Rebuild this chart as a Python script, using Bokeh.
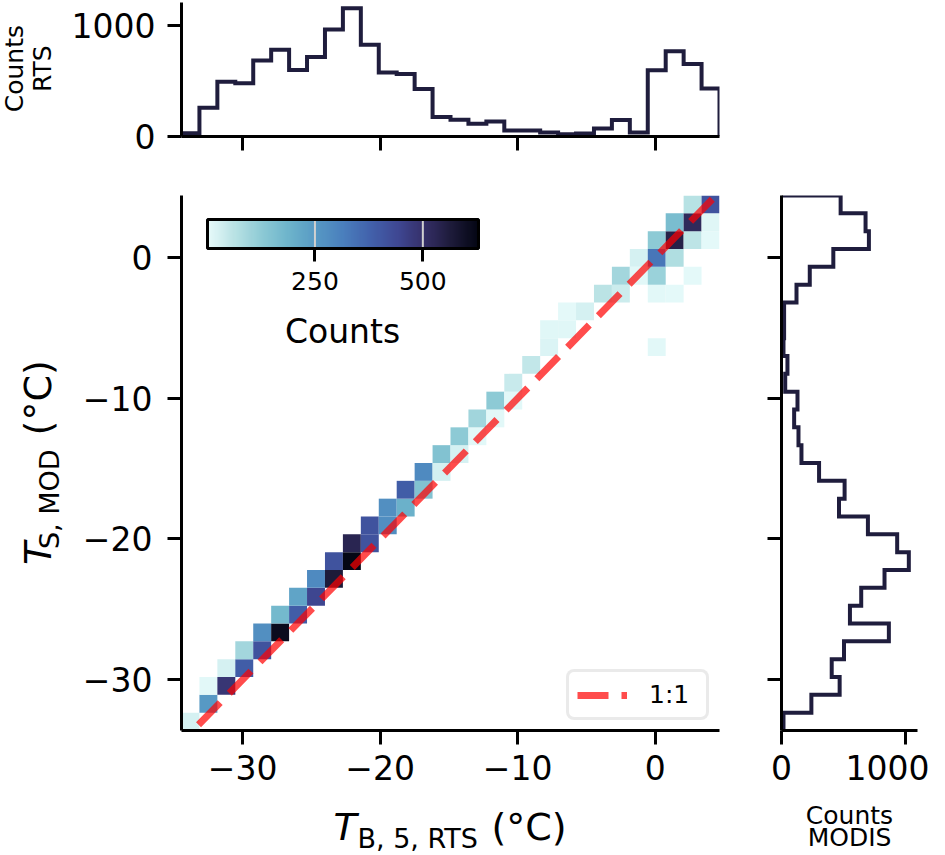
import numpy as np
from bokeh.plotting import figure
from bokeh.models import (Range1d, FixedTicker, LinearColorMapper, ColorBar, Label,
                          ColumnDataSource, BoxAnnotation, Spacer)
from bokeh.layouts import column, row
from bokeh.core.properties import value
from bokeh.embed import file_html
from bokeh.resources import INLINE

# ---------------- data ----------------
X_EDGE_MIN, X_EDGE_MAX = -34.45, 4.68   # T_B,5,RTS bin range (deg C)
Y_EDGE_MIN, Y_EDGE_MAX = -33.62, 4.42   # T_S,MOD bin range (deg C)
N_BINS = 30

# top marginal histogram (RTS), left -> right
rts_counts = [30, 260, 494, 479, 685, 782, 600, 715, 964, 1155,
              827, 576, 564, 427, 176, 152, 115, 136, 55, 55,
              36, 21, 27, 73, 148, 36, 597, 767, 652, 433]

# right marginal histogram (MODIS), bottom -> top
modis_counts = [16, 241, 469, 405, 504, 866, 552, 643, 831, 1027,
                933, 697, 464, 509, 303, 161, 137, 102, 129, 30,
                48, 16, 21, 21, 121, 228, 418, 705, 678, 477]

# 2-D histogram cells: x-bin index, y-bin index (from bottom), count
cell_x_bin = [0, 1, 1, 2, 2, 3, 3, 4, 4, 5, 5, 6, 6, 7, 7, 8, 8, 9, 9, 10,
              10, 11, 11, 12, 12, 13, 13, 14, 14, 15, 15, 16, 16, 17, 17, 18, 18, 19,
              20, 26, 20, 21, 21, 22, 23, 24, 26, 27, 24, 25, 26, 28,
              25, 26, 27, 26, 27, 28, 29, 27, 28, 29, 28, 29]
cell_y_bin = [0, 1, 2, 2, 3, 3, 4, 4, 5, 5, 6, 6, 7, 7, 8, 8, 9, 9, 10, 10,
              11, 11, 12, 12, 13, 13, 14, 14, 15, 15, 16, 16, 17, 17, 18, 18, 19, 20,
              21, 21, 22, 22, 23, 23, 24, 24, 24, 24, 25, 25, 25, 25,
              26, 26, 26, 27, 27, 27, 27, 28, 28, 28, 29, 29]
cell_count = [26, 252, 10, 485, 26, 390, 95, 415, 277, 610, 177, 390, 227, 447, 290, 566, 415, 625, 535, 415,
              415, 280, 277, 196, 390, 150, 290, 28, 150, 26, 128, 10, 98, 9, 128, 9, 45, 52,
              20, 9, 12, 12, 8, 26, 62, 38, 10, 8, 95, 10, 107, 7,
              26, 334, 76, 128, 547, 58, 8, 165, 520, 14, 65, 415]

COUNT_LOW, COUNT_HIGH = 1, 629

temp_ticks = [-30, -20, -10, 0]
temp_tick_labels = ["\u221230", "\u221220", "\u221210", "0"]
count_ticks = [0, 1000]
count_tick_labels = ["0", "1000"]
cbar_ticks = [250, 500]
TOP_COUNT_MAX = 1207
RIGHT_COUNT_MAX = 1097

# ---------------- styling ----------------
FONT = "DejaVu Sans"
TICK_PX = "33px"
HIST_COLOR = "#1f1d3d"
ice_stops = ["#e8fbfb", "#b8e2e4", "#8dcad5", "#6db4cb", "#5799c4", "#4a7fbd",
             "#4262ac", "#3f4894", "#352f68", "#1e1b3a", "#040613"]
MID = 0.346   # distance (in em) from the alphabetic baseline to the middle of the text box

# page geometry (px)
LEFT_W, MID_W, RIGHT_W = 64, 675, 190
TOP_H, MAIN_H, BOT_H = 160, 640, 53
CB_X, CB_Y, CB_LEN, CB_THICK = 26, 438, 271, 29


def make_palette(stops, n=256):
    rgb = np.array([[int(s[i:i + 2], 16) for i in (1, 3, 5)] for s in stops], float)
    pos = np.linspace(0, 1, len(stops))
    t = np.linspace(0, 1, n)
    out = np.stack([np.interp(t, pos, rgb[:, k]) for k in range(3)], axis=1)
    return ["#%02x%02x%02x" % tuple(int(round(v)) for v in c) for c in out]


palette = make_palette(ice_stops)

x_edges = np.linspace(X_EDGE_MIN, X_EDGE_MAX, N_BINS + 1)
y_edges = np.linspace(Y_EDGE_MIN, Y_EDGE_MAX, N_BINS + 1)


def style_axis(ax, ticks, labels, show_labels=True, standoff=12):
    ax.ticker = FixedTicker(ticks=ticks)
    ax.minor_tick_line_color = None
    ax.major_tick_in = 0
    ax.major_tick_out = 14
    ax.major_tick_line_width = 3
    ax.major_tick_line_color = "black"
    ax.axis_line_width = 3
    ax.axis_line_color = "black"
    ax.major_label_text_font = FONT
    if show_labels:
        ax.major_label_overrides = {t: l for t, l in zip(ticks, labels)}
        ax.major_label_text_color = "black"
        ax.major_label_text_font_size = TICK_PX
        ax.major_label_standoff = standoff
    else:
        # tick marks only: no tick labels are drawn
        ax.major_label_text_color = None
        ax.major_label_text_font_size = "0px"
        ax.major_label_standoff = 0


def base_fig(width, height, xr, yr, bl, br, bt, bb):
    p = figure(width=width, height=height, x_range=xr, y_range=yr, title=None,
               output_backend="svg", toolbar_location=None,
               min_border_left=bl, min_border_right=br, min_border_top=bt, min_border_bottom=bb)
    p.outline_line_color = None
    p.xgrid.visible = False
    p.ygrid.visible = False
    p.background_fill_color = "white"
    p.border_fill_color = "white"
    return p


def text_fig(width, height):
    p = figure(width=width, height=height, x_range=Range1d(0, width), y_range=Range1d(0, height),
               x_axis_type=None, y_axis_type=None, title=None, output_backend="svg",
               toolbar_location=None, min_border=0,
               min_border_left=0, min_border_right=0, min_border_top=0, min_border_bottom=0)
    p.outline_line_color = None
    p.background_fill_color = "white"
    p.border_fill_color = "white"
    return p


def put_text(p, top_y, x, page_y, text, size, rotated=False, align="left", italic=False):
    """x / page_y give the start (or centre) of the alphabetic baseline in page px."""
    h = p.height
    if rotated:
        ax, ay = x - MID * size, page_y
    else:
        ax, ay = x, page_y - MID * size
    p.text(x=[ax], y=[h - (ay - top_y)], text=[text], angle=np.pi / 2 if rotated else 0.0,
           text_font=value(FONT), text_font_size=value("%dpx" % size),
           text_font_style=value("italic" if italic else "normal"),
           text_align=value(align), text_baseline=value("middle"), text_color="black")


# ---------------- top marginal ----------------
top = base_fig(MID_W, TOP_H, Range1d(X_EDGE_MIN, X_EDGE_MAX), Range1d(0, TOP_COUNT_MAX), 117, 20, 2, 24)
top_x = np.repeat(x_edges, 2)
top_y = np.concatenate([[0], np.repeat(rts_counts, 2), [0]])
top.line(top_x, top_y, line_color=HIST_COLOR, line_width=4, line_join="miter")
style_axis(top.xaxis[0], temp_ticks, temp_tick_labels, show_labels=False)
style_axis(top.yaxis[0], count_ticks, count_tick_labels, standoff=12)

# ---------------- main 2-D histogram ----------------
main = base_fig(MID_W, MAIN_H, Range1d(X_EDGE_MIN, X_EDGE_MAX), Range1d(Y_EDGE_MIN, Y_EDGE_MAX), 117, 20, 35, 70)
mapper = LinearColorMapper(palette=palette, low=COUNT_LOW, high=COUNT_HIGH)
xi = np.array(cell_x_bin)
yi = np.array(cell_y_bin)
src = ColumnDataSource(dict(left=x_edges[xi], right=x_edges[xi + 1],
                            bottom=y_edges[yi], top=y_edges[yi + 1], count=cell_count))
main.quad(left="left", right="right", bottom="bottom", top="top", source=src,
          fill_color={"field": "count", "transform": mapper}, line_color=None)
lo = min(X_EDGE_MIN, Y_EDGE_MIN) - 1
hi = max(X_EDGE_MAX, Y_EDGE_MAX) + 1
main.line([lo, hi], [lo, hi], line_color="#ff0000", line_alpha=0.7, line_width=7,
          line_dash="31 13", legend_label="1:1")
style_axis(main.xaxis[0], temp_ticks, temp_tick_labels, standoff=10)
style_axis(main.yaxis[0], temp_ticks, temp_tick_labels, standoff=15)

lg = main.legend[0]
lg.location = "bottom_right"
lg.margin = 10
lg.padding = 8
lg.spacing = 0
lg.glyph_width = 50
lg.glyph_height = 20
lg.label_standoff = 22
lg.label_width = 49
lg.label_text_font = FONT
lg.label_text_font_size = "25px"
lg.label_text_color = "black"
lg.border_line_color = "#d6d6d6"
lg.border_line_width = 3
lg.border_radius = 8
lg.background_fill_alpha = 0.8

cb = ColorBar(color_mapper=mapper, orientation="horizontal", location=(CB_X, CB_Y),
              width=CB_LEN, height=CB_THICK, ticker=FixedTicker(ticks=cbar_ticks),
              major_label_text_font=FONT, major_label_text_font_size="25px",
              major_label_text_color="black",
              bar_line_color="black", bar_line_width=3, padding=0,
              background_fill_alpha=0, border_line_color=None,
              minor_tick_line_color=None, major_tick_out=13, major_tick_in=0,
              major_tick_line_color="black", major_tick_line_width=3, label_standoff=10)
main.add_layout(cb)
# light lines across the colour scale at the tick values
for t in cbar_ticks:
    sx = CB_X + (t - COUNT_LOW) / (COUNT_HIGH - COUNT_LOW) * CB_LEN
    main.add_layout(BoxAnnotation(left=sx - 1, right=sx + 1, left_units="screen", right_units="screen",
                                  bottom=CB_Y + 45.5, top=CB_Y + 71.5, bottom_units="screen",
                                  top_units="screen", fill_color="#d0d0d0", fill_alpha=1,
                                  line_color=None))
main.add_layout(Label(x=161, y=388 + MID * 33, x_units="screen", y_units="screen", text="Counts",
                      text_align="center", text_baseline="middle", text_font=FONT,
                      text_font_size="33px", text_color="black"))

# ---------------- right marginal ----------------
right = base_fig(RIGHT_W, MAIN_H, Range1d(0, RIGHT_COUNT_MAX), Range1d(Y_EDGE_MIN, Y_EDGE_MAX), 42, 12, 35, 70)
r_y = np.repeat(y_edges, 2)
r_x = np.concatenate([[0], np.repeat(modis_counts, 2), [0]])
right.line(r_x, r_y, line_color=HIST_COLOR, line_width=4, line_join="miter")
style_axis(right.xaxis[0], count_ticks, count_tick_labels, standoff=10)
style_axis(right.yaxis[0], temp_ticks, temp_tick_labels, show_labels=False)

# ---------------- axis-title panels ----------------
ylab_top = text_fig(LEFT_W, TOP_H)
put_text(ylab_top, 0, 23, 79, "Counts", 25, rotated=True, align="center")
put_text(ylab_top, 0, 51, 79, "RTS", 25, rotated=True, align="center")

ylab_main = text_fig(LEFT_W, MAIN_H)
put_text(ylab_main, TOP_H, 51, 602, "T", 38, rotated=True, italic=True)
put_text(ylab_main, TOP_H, 58, 583, "S, MOD", 27, rotated=True)
put_text(ylab_main, TOP_H, 51, 447, "(\u00b0C)", 38, rotated=True)

bottom = text_fig(LEFT_W + MID_W + RIGHT_W, BOT_H)
B0 = TOP_H + MAIN_H
put_text(bottom, B0, 333, 840, "T", 38, italic=True)
put_text(bottom, B0, 357, 847, "B, 5, RTS", 27)
put_text(bottom, B0, 491, 840, "(\u00b0C)", 38)
put_text(bottom, B0, 849, 824, "Counts", 25, align="center")
put_text(bottom, B0, 849, 846, "MODIS", 25, align="center")

layout = column(row(ylab_top, top, Spacer(width=RIGHT_W, height=TOP_H)),
                row(ylab_main, main, right),
                bottom)
open("out.html", "w").write(file_html(layout, INLINE))
